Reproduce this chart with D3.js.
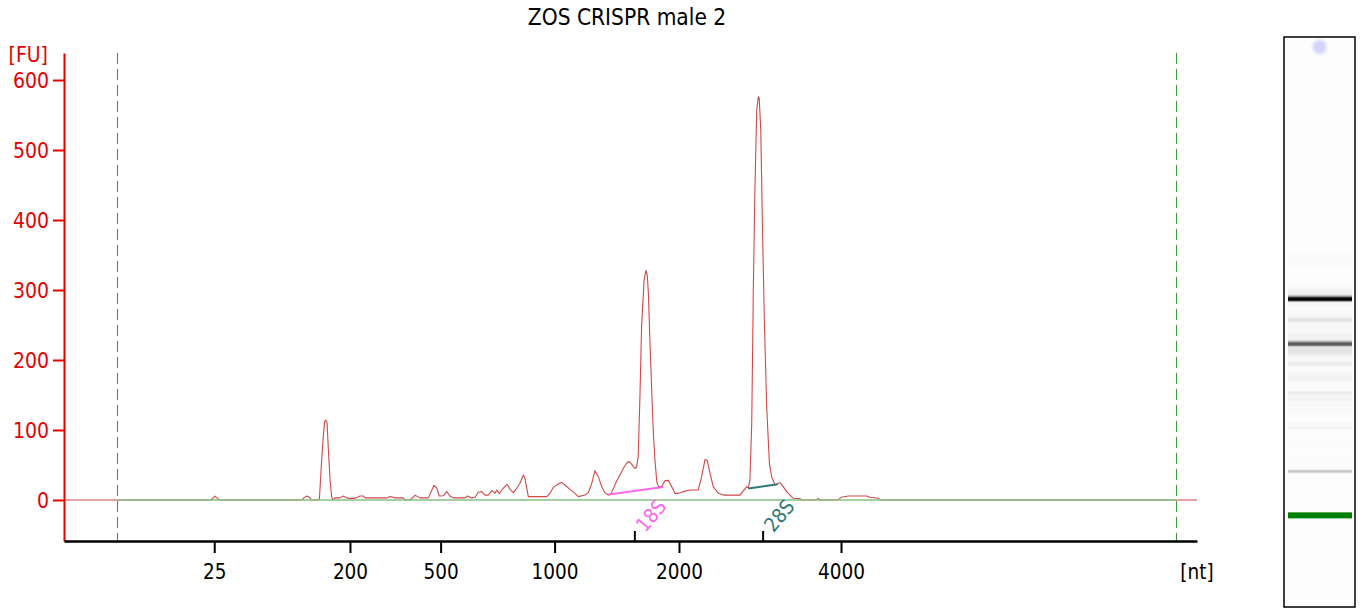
<!DOCTYPE html>
<html>
<head>
<meta charset="utf-8">
<script src="https://cdn.jsdelivr.net/npm/d3@7/dist/d3.min.js"></script>
<style>
  html, body { margin: 0; padding: 0; background: #ffffff; }
  svg { display: block; }
</style>
</head>
<body>
<svg id="chart" width="1361" height="609"></svg>
<script>
// ---------------- DATA ----------------
const title = "ZOS CRISPR male 2";

// Electropherogram trace: migration time [s] and fluorescence [FU]
const traceTime = [19.00, 25.49, 25.58, 25.66, 25.75, 25.84, 29.50, 29.59, 29.72, 29.81, 29.93,
  30.21, 30.27, 30.37, 30.44, 30.50, 30.56, 30.61, 30.66, 30.74, 30.81, 30.86,
  30.96, 31.18, 31.33, 31.48, 31.70, 31.89, 32.06, 32.21, 32.28, 33.24, 33.39, 33.61, 33.97, 34.05,
  34.27, 34.49, 34.71, 35.08, 35.33, 35.45, 35.56, 35.74, 35.89, 36.03, 36.18, 36.70, 36.80, 36.99,
  37.14, 37.28, 37.43, 37.58, 37.72, 37.90, 38.02, 38.10, 38.21, 38.32, 38.42, 38.56, 38.68, 38.83,
  38.98, 39.12, 39.27, 39.34, 39.42, 39.49, 39.64, 40.30, 40.45, 40.59, 40.81, 40.96, 41.11, 41.33,
  41.55, 41.70, 41.99, 42.14, 42.29, 42.43, 42.58, 42.73, 42.87, 43.02, 43.13, 43.39, 43.61, 43.68,
  43.83, 43.90, 43.98, 44.05, 44.12, 44.20, 44.27, 44.34, 44.42, 44.49, 44.60, 44.68, 44.74, 44.79,
  44.86, 44.94, 45.01, 45.08, 45.16, 45.23, 45.38, 45.52, 45.67, 45.82, 45.96, 46.11, 46.33, 46.63,
  46.99, 47.14, 47.29, 47.39, 47.51, 47.65, 47.88, 48.10, 48.39, 48.83, 49.13, 49.20, 49.27, 49.35,
  49.42, 49.49, 49.57, 49.64, 49.68, 49.75, 49.82, 49.91, 50.01, 50.13, 50.23, 50.38, 50.60, 50.74,
  50.89, 51.04, 51.19, 51.48, 51.56, 52.19, 52.29, 52.36, 53.17, 53.30, 53.61, 53.98, 54.42, 54.57, 54.94,
  55.01, 69.00];
const traceFU = [0, 0, 3, 5.5, 3, 0, 0, 3, 5.7, 4, 0,
  0, 1, 57, 90, 112, 114, 110, 76, 29, 5, 0,
  3, 3, 5.7, 3, 2, 3, 5.7, 5.7, 3, 3, 5, 3, 3, 0,
  0, 6.7, 3, 3, 21, 17, 5.7, 6, 12, 5.7, 3, 3, 5.7, 3,
  4, 11, 11.9, 7, 7, 13.3, 9.5, 14.3, 9, 14.3, 18, 22.4, 15.2, 10.5,
  16.7, 23.8, 35.7, 31, 17, 4.8, 4.8, 4.8, 9.5, 18, 22.9, 25.2, 21.4, 15.2,
  9.5, 4.8, 7, 10.5, 23.8, 41.9, 33.3, 19, 10.5, 7.1, 8, 27, 40.5, 45,
  52.4, 54.8, 53.8, 51, 48, 45, 47, 62, 152, 248, 314, 328, 321, 295,
  224, 152, 95, 57, 26, 19, 19.5, 27.6, 28, 19, 9.5, 9.5, 11.9, 14.3,
  14.3, 33.3, 58, 56, 38, 19, 9.5, 7, 7, 7, 19, 17, 28.6, 109.5,
  300, 443, 557, 576, 574, 528.6, 395, 252, 133, 52, 33, 21.4, 24.8, 19,
  11.9, 7, 2.4, 2, 0, 0, 2, 0, 0.5, 3.8, 5.7, 5.7, 5.7, 3.8, 2.4,
  0, 0];

// Ladder (x tick) positions in migration time and their sizes
const ladderTimes  = [25.63, 31.62, 35.62, 40.65, 46.14, 53.29];
const ladderLabels = ["25", "200", "500", "1000", "2000", "4000"];
const xUnitLabel = "[nt]";

// Y ticks
const yTicks = [0, 100, 200, 300, 400, 500, 600];
const yUnitLabel = "[FU]";

// Ribosomal fragments: name, tick time, peak-baseline start/end (time, FU)
const fragNames     = ["18S", "28S"];
const fragTickTimes = [44.17, 49.83];
const fragStartTime = [43.03, 49.20];
const fragStartFU   = [7.7, 16.3];
const fragEndTime   = [45.45, 50.50];
const fragEndFU     = [18.6, 22.4];
const fragColors    = ["#ff66ee", "#2f7a78"];

// Analysis window (dashed markers)
const windowTimes = [21.34, 68.06];
// Lower marker time (green band in gel lane)
const markerTime = 25.66;

// ---------------- LAYOUT ----------------
const FONT = "'DejaVu Sans Condensed', 'DejaVu Sans', sans-serif";
const RED = "#e60000";
const svg = d3.select("#chart");

const x = d3.scaleLinear().domain([19, 69]).range([64, 1197]);
const y = d3.scaleLinear().domain([-58.6, 638.6]).range([541, 53]);

// Title
svg.append("text")
  .attr("x", 627).attr("y", 25)
  .attr("text-anchor", "middle")
  .attr("font-family", FONT).attr("font-size", 22.5)
  .attr("fill", "#000")
  .text(title);

// Dashed window lines
svg.selectAll("line.win").data(windowTimes).enter().append("line")
  .attr("class", "win")
  .attr("x1", d => Math.round(x(d)) + 0.5).attr("x2", d => Math.round(x(d)) + 0.5)
  .attr("y1", y.range()[1]).attr("y2", y.range()[0])
  .attr("stroke", "#3f9a3f").attr("stroke-width", 1.1)
  .attr("stroke-dasharray", "11,5");

// Trace
const pts = traceTime.map((t, i) => [t, traceFU[i]]);
svg.append("path")
  .datum(pts)
  .attr("fill", "none")
  .attr("stroke", "#d04848")
  .attr("stroke-width", 1.1)
  .attr("stroke-linejoin", "round")
  .attr("d", d3.line().x(d => x(d[0])).y(d => y(d[1])));

// Green baseline inside analysis window
svg.append("line")
  .attr("x1", x(windowTimes[0])).attr("x2", x(windowTimes[1]))
  .attr("y1", y(0)).attr("y2", y(0))
  .attr("stroke", "#86c286").attr("stroke-width", 1.5);

// Fragment baselines
fragNames.forEach((n, i) => {
  svg.append("line")
    .attr("x1", x(fragStartTime[i])).attr("y1", y(fragStartFU[i]))
    .attr("x2", x(fragEndTime[i])).attr("y2", y(fragEndFU[i]))
    .attr("stroke", fragColors[i]).attr("stroke-width", 2);
  const lx = x(fragTickTimes[i]) + 33, ly = 507;
  svg.append("text")
    .attr("transform", `translate(${lx},${ly}) rotate(-50)`)
    .attr("text-anchor", "end")
    .attr("font-family", FONT).attr("font-size", 20)
    .attr("fill", fragColors[i])
    .text(n);
});

// Y axis
const yAxis = d3.axisLeft(y).tickValues(yTicks).tickSize(11).tickSizeOuter(0);
const gy = svg.append("g").attr("transform", "translate(64,0)").call(yAxis);
gy.select(".domain").attr("stroke", RED).attr("stroke-width", 2);
gy.selectAll(".tick line").attr("stroke", RED).attr("stroke-width", 2);
gy.selectAll(".tick text")
  .attr("x", -15).attr("dy", "0.36em")
  .attr("fill", RED).attr("font-family", FONT).attr("font-size", 21);
svg.append("text")
  .attr("x", 48).attr("y", 62)
  .attr("text-anchor", "end")
  .attr("font-family", FONT).attr("font-size", 21)
  .attr("fill", RED)
  .text(yUnitLabel);

// X axis
const xAxis = d3.axisBottom(x).tickValues(ladderTimes)
  .tickFormat((d, i) => ladderLabels[i]).tickSize(12).tickSizeOuter(0);
const gx = svg.append("g").attr("transform", "translate(0,541)").call(xAxis);
gx.select(".domain").attr("stroke", "#000").attr("stroke-width", 2.5);
gx.selectAll(".tick line").attr("stroke", "#000").attr("stroke-width", 2);
gx.selectAll(".tick text")
  .attr("y", 38).attr("dy", 0)
  .attr("fill", "#000").attr("font-family", FONT).attr("font-size", 20.5);

// fragment ticks (upwards)
const fAxis = d3.axisBottom(x).tickValues(fragTickTimes).tickFormat("").tickSize(-10).tickSizeOuter(0);
const gf = svg.append("g").attr("transform", "translate(0,541)").call(fAxis);
gf.select(".domain").remove();
gf.selectAll(".tick line").attr("stroke", "#000").attr("stroke-width", 2);

svg.append("text")
  .attr("x", x.range()[1]).attr("y", 579)
  .attr("text-anchor", "middle")
  .attr("font-family", FONT).attr("font-size", 20.5)
  .attr("fill", "#000")
  .text(xUnitLabel);

// ---------------- GEL LANE ----------------
const lane = { x: 1284, y: 37, w: 71, h: 570 };
const gel = d3.scaleLinear().domain([15.5, 78.7]).range([lane.y + lane.h, lane.y]);
const defs = svg.append("defs");
const grad = defs.append("linearGradient")
  .attr("id", "gelgrad")
  .attr("gradientUnits", "userSpaceOnUse")
  .attr("x1", 0).attr("x2", 0)
  .attr("y1", gel(19)).attr("y2", gel(69));
const shade = v => {
  const g = Math.round(Math.max(0, 253 - Math.min(253, v * 0.5)));
  return `rgb(${g},${g},${g})`;
};
pts.forEach(d => {
  grad.append("stop").attr("offset", (d[0] - 19) / 50).attr("stop-color", shade(d[1]));
});
const blur = defs.append("filter").attr("id", "soft").attr("x", "-50%").attr("y", "-50%")
  .attr("width", "200%").attr("height", "200%");
blur.append("feGaussianBlur").attr("stdDeviation", 1.6);

svg.append("rect")
  .attr("x", lane.x).attr("y", lane.y).attr("width", lane.w).attr("height", lane.h)
  .attr("fill", "#fdfdfd");
svg.append("rect")
  .attr("x", lane.x + 4).attr("y", lane.y + 1).attr("width", lane.w - 7).attr("height", lane.h - 2)
  .attr("fill", "url(#gelgrad)");
svg.append("rect")
  .attr("x", lane.x + 4).attr("width", lane.w - 7)
  .attr("y", gel(markerTime) - 3).attr("height", 6)
  .attr("fill", "#008000");
svg.append("circle")
  .attr("cx", lane.x + lane.w / 2).attr("cy", lane.y + 10).attr("r", 7)
  .attr("fill", "#d4d4fb").attr("filter", "url(#soft)");
svg.append("rect")
  .attr("x", lane.x).attr("y", lane.y).attr("width", lane.w).attr("height", lane.h)
  .attr("fill", "none").attr("stroke", "#000").attr("stroke-width", 1.5);
</script>
</body>
</html>
